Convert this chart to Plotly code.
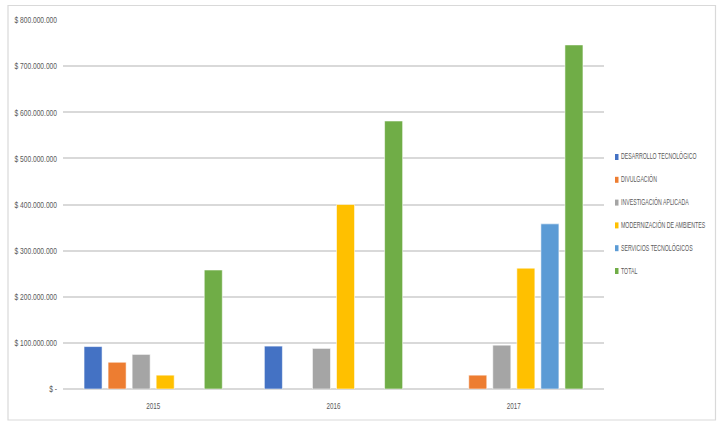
import plotly.graph_objects as go

years = ["2015", "2016", "2017"]
series_names = [
    "DESARROLLO TECNOLÓGICO",
    "DIVULGACIÓN",
    "INVESTIGACIÓN APLICADA",
    "MODERNIZACIÓN DE AMBIENTES",
    "SERVICIOS TECNOLÓGICOS",
    "TOTAL",
]
desarrollo = [92_000_000, 93_000_000, None]
divulgacion = [58_000_000, None, 30_000_000]
investigacion = [75_000_000, 88_000_000, 95_000_000]
modernizacion = [30_000_000, 400_000_000, 262_000_000]
servicios = [None, None, 358_000_000]
total = [258_000_000, 581_000_000, 746_000_000]
series_values = [desarrollo, divulgacion, investigacion, modernizacion, servicios, total]
colors = ["#4472C4", "#ED7D31", "#A5A5A5", "#FFC000", "#5B9BD5", "#70AD47"]

tick_vals = [0, 100_000_000, 200_000_000, 300_000_000, 400_000_000,
             500_000_000, 600_000_000, 700_000_000, 800_000_000]
tick_text = ["$ -", "$ 100.000.000", "$ 200.000.000", "$ 300.000.000", "$ 400.000.000",
             "$ 500.000.000", "$ 600.000.000", "$ 700.000.000", "$ 800.000.000"]

FONT = "Liberation Sans, Arial, sans-serif"
TXT = "#595959"

W, H = 725, 428
L, R, T, B = 63, 121, 20, 39
PW, PH = W - L - R, H - T - B


def px_x(x):
    return (x - L) / PW


def px_y(y):
    return (H - B - y) / PH


fig = go.Figure()
for name, vals, col in zip(series_names, series_values, colors):
    fig.add_trace(go.Bar(
        x=years, y=vals, name=name, showlegend=False,
        marker=dict(color=col, line=dict(color="rgba(255,255,255,0.55)", width=1)),
    ))

# compact custom legend: small swatch + label
legend_annotations = []
legend_shapes = []
for i, (name, col) in enumerate(zip(series_names, colors)):
    yc = 157 + i * 22.8
    legend_shapes.append(dict(
        type="rect", xref="paper", yref="paper",
        x0=px_x(615), x1=px_x(618.5), y0=px_y(yc + 3), y1=px_y(yc - 3),
        fillcolor=col, line=dict(width=0), layer="above",
    ))
    legend_annotations.append(dict(
        xref="paper", yref="paper", x=px_x(619.5), y=px_y(yc - 0.5),
        xanchor="left", yanchor="middle", align="left", showarrow=False,
        borderpad=0, text=name,
        font=dict(family=FONT, size=9, color=TXT),
    ))

border = dict(type="rect", xref="paper", yref="paper",
              x0=px_x(8), x1=px_x(715.5), y0=px_y(420), y1=px_y(5.5),
              line=dict(color="#D9D9D9", width=1.2), fillcolor="rgba(0,0,0,0)",
              layer="below")

fig.update_layout(
    width=W, height=H,
    margin=dict(l=L, r=R, t=T, b=B, autoexpand=False),
    paper_bgcolor="white", plot_bgcolor="white",
    barmode="group", bargap=0.2, bargroupgap=0.25,
    font=dict(family=FONT, size=9.5, color=TXT),
    showlegend=False,
    xaxis=dict(showgrid=False, showline=False, ticks="", automargin=False,
               ticklabelstandoff=9, tickfont=dict(size=9.5, color=TXT)),
    yaxis=dict(range=[0, 800_000_000], tickvals=tick_vals, ticktext=tick_text,
               showgrid=True, gridcolor="#D9D9D9", gridwidth=1.5,
               zeroline=True, zerolinecolor="#D9D9D9", zerolinewidth=1.5,
               showline=False, ticks="", ticklabelstandoff=5, automargin=False,
               tickfont=dict(size=9.5, color=TXT)),
    annotations=legend_annotations,
    shapes=[border] + legend_shapes,
)

# page without body margin, and text narrowed to mimic the condensed original typeface
post = """
document.body.style.margin = '0';
var gd = document.getElementById('{plot_id}');
function squeeze(sel, f) {
  gd.querySelectorAll(sel).forEach(function (t) {
    try {
      var w = t.getComputedTextLength();
      if (w > 0) {
        t.setAttribute('lengthAdjust', 'spacingAndGlyphs');
        t.setAttribute('textLength', (w * f).toFixed(1));
      }
    } catch (e) {}
  });
}
function narrow(sel, f) {
  gd.querySelectorAll(sel).forEach(function (t) {
    try {
      var x = parseFloat(t.getAttribute('x') || '0');
      var tr = t.getAttribute('transform') || '';
      t.setAttribute('transform', tr + ' translate(' + x + ',0) scale(' + f + ',1) translate(' + (-x) + ',0)');
      var g = t.parentNode;
      var bg = g ? g.querySelector('rect.bg') : null;
      if (bg) {
        var w = parseFloat(bg.getAttribute('width') || '0');
        bg.setAttribute('width', (w * f).toFixed(1));
      }
    } catch (e) {}
  });
}
squeeze('.ytick text', 0.70);
squeeze('.xtick text', 0.66);
narrow('text.annotation-text', 0.58);
"""

fig.write_html("out.html", post_script=post, config={"displayModeBar": False})
